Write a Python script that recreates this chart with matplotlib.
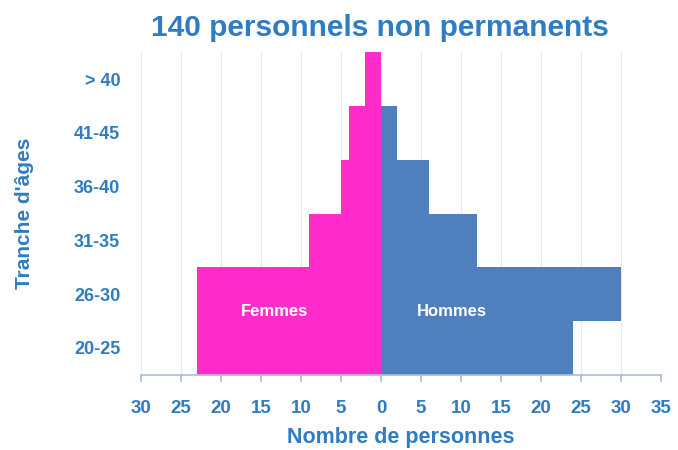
import matplotlib

matplotlib.use("Agg")
import matplotlib.pyplot as plt

AGES = ["20-25", "26-30", "31-35", "36-40", "41-45", "> 40"]
FEMMES = [23, 23, 9, 5, 4, 2]
HOMMES = [24, 30, 12, 6, 2, 0]
XTICKS = list(range(-30, 40, 5))

PINK = "#ff2ccb"
BLUE = "#4f7fbd"
TXT = "#2f7cc2"

plt.rcParams["font.family"] = ["Liberation Sans", "DejaVu Sans"]

fig = plt.figure(figsize=(6.78, 4.5), dpi=100)
ax = fig.add_axes([0.208, 0.167, 0.767, 0.717])

y = list(range(len(AGES)))
ax.barh(y, [-v for v in FEMMES], height=1.0, color=PINK, linewidth=0, zorder=2)
ax.barh(y, HOMMES, height=1.0, color=BLUE, linewidth=0, zorder=2)

ax.text(-13.3, 0.68, "Femmes", color="white", fontsize=12, fontweight="bold",
        ha="center", va="center", zorder=3)
ax.text(8.8, 0.68, "Hommes", color="white", fontsize=12, fontweight="bold",
        ha="center", va="center", zorder=3)

ax.set_xlim(-30, 35)
ax.set_ylim(-0.5, 5.5)
ax.set_xticks(XTICKS)
ax.set_xticklabels([str(abs(t)) for t in XTICKS])
ax.set_yticks(y)
ax.set_yticklabels(AGES)
ax.grid(axis="x", color="#e3eaf4", lw=0.8, zorder=0)
for s in ["top", "right", "left"]:
    ax.spines[s].set_visible(False)
ax.spines["bottom"].set_color("#a9bcd6")
ax.spines["bottom"].set_linewidth(1.2)
ax.tick_params(axis="x", colors="#a9bcd6", length=5, width=1.2, pad=13,
               labelcolor=TXT, labelsize=13.5)
ax.tick_params(axis="y", length=0, pad=15, labelcolor=TXT, labelsize=13)
for lab in ax.get_xticklabels() + ax.get_yticklabels():
    lab.set_fontweight("bold")

ax.set_xlabel("Nombre de personnes", color=TXT, fontsize=15.5, fontweight="bold",
              labelpad=7)
ax.set_ylabel("Tranche d'âges", color=TXT, fontsize=15, fontweight="bold",
              labelpad=29)
fig.suptitle("140 personnels non permanents", color=TXT, fontsize=21.5,
             fontweight="bold", x=0.561, y=0.97)

fig.savefig("out.png", dpi=100)
